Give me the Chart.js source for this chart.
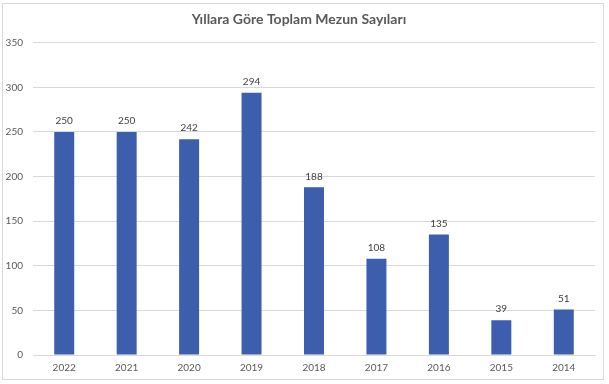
<!DOCTYPE html>
<html><head><meta charset="utf-8">
<script src="https://cdn.jsdelivr.net/npm/chart.js@4"></script>
<style>
html,body{margin:0;padding:0;background:#fff;}
#wrap{position:absolute;left:2px;top:3px;width:600px;height:375px;border:1px solid #d9d9d9;background:#fff;}
</style></head><body>
<div id="wrap"><canvas id="c" width="600" height="375"></canvas></div>
<script>
const titleText = "Yıllara Göre Toplam Mezun Sayıları";
const categories = ["2022","2021","2020","2019","2018","2017","2016","2015","2014"];
const graduates = [250,250,242,294,188,108,135,39,51];
const yTicks = [0,50,100,150,200,250,300,350];

const FONT = "Lato, 'Open Sans', sans-serif";
const labelPlugin = {
  id: 'barLabels',
  afterDatasetsDraw(chart){
    const ctx = chart.ctx;
    const meta = chart.getDatasetMeta(0);
    ctx.save();
    ctx.font = "10px " + FONT;
    ctx.fillStyle = "#404040";
    ctx.textAlign = "center";
    ctx.textBaseline = "middle";
    meta.data.forEach((bar,i)=>{
      ctx.fillText(String(graduates[i]), bar.x, bar.y - 11);
    });
    ctx.restore();
  }
};

new Chart(document.getElementById('c'), {
  type: 'bar',
  data: {
    labels: categories,
    datasets: [{
      data: graduates,
      backgroundColor: '#3C5EAC',
      barPercentage: 0.32,
      categoryPercentage: 1.0
    }]
  },
  options: {
    responsive: false,
    animation: false,
    devicePixelRatio: 1,
    layout: { padding: { left: 0, right: 8, top: 0, bottom: 0 } },
    plugins: {
      legend: { display: false },
      tooltip: { enabled: false },
      title: {
        display: true,
        text: titleText,
        color: '#595959',
        font: { family: FONT, size: 14, weight: 'bold' },
        padding: { top: 7, bottom: 15 }
      }
    },
    scales: {
      x: {
        grid: { display: false, drawTicks: false },
        border: { display: true, color: '#d9d9d9' },
        afterFit(scale){ scale.height = 24; },
        ticks: { color: '#595959', font: { family: FONT, size: 10 }, padding: 7, maxRotation: 0 }
      },
      y: {
        min: 0, max: 350,
        afterFit(scale){ scale.width = 30; },
        afterBuildTicks(scale){ scale.ticks = yTicks.map(v=>({value:v})); },
        grid: { color: '#d9d9d9', drawTicks: false },
        border: { display: false },
        ticks: { color: '#595959', font: { family: FONT, size: 10 }, padding: 10 }
      }
    }
  },
  plugins: [labelPlugin]
});
</script>
</body></html>
